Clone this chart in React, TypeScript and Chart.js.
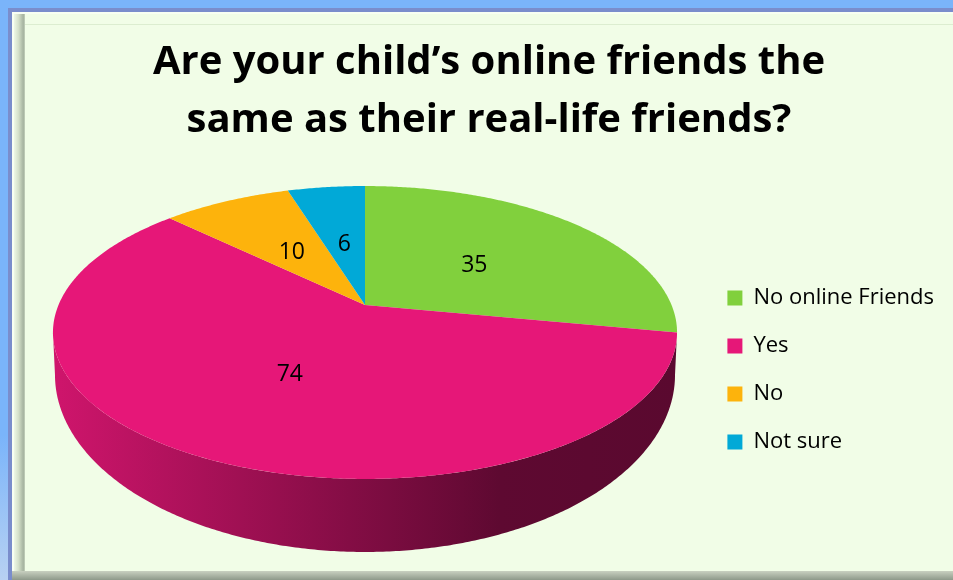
import React, { useEffect, useRef } from "react";
import { Chart, registerables } from "chart.js";

Chart.register(...registerables);

// ---- data ----
const TITLE_LINES = ["Are your child\u2019s online friends the", "same as their real-life friends?"];
const CATEGORIES = ["No online Friends", "Yes", "No", "Not sure"];
const VALUES = [35, 74, 10, 6];
const COLORS = ["#81d03d", "#e61778", "#fdb30c", "#01a9d7"];

// ---- 3D pie geometry (style) ----
const GEOM = {
  cx: 365,
  persp: 0.1877,
  top: { cy: 305, rx: 306.5, ry: 141.3 },
  bottom: { cy: 341.7, rx: 304.5, ry: 170.8 },
  labelR: 0.49,
};

function proj(u: number, v: number, g: { cy: number; rx: number; ry: number }) {
  const d = 1 + GEOM.persp * v;
  return [GEOM.cx + (g.rx * u) / d, g.cy - (g.ry * v) / d];
}

function shade(hex: string, f: number) {
  const n = parseInt(hex.slice(1), 16);
  const r = Math.round(((n >> 16) & 255) * f);
  const g = Math.round(((n >> 8) & 255) * f);
  const b = Math.round((n & 255) * f);
  return `rgb(${r},${g},${b})`;
}

const pie3d = {
  id: "pie3d",
  beforeDatasetsDraw(chart: any) {
    const ctx: CanvasRenderingContext2D = chart.ctx;
    const meta = chart.getDatasetMeta(0);
    const colors: string[] = chart.data.datasets[0].backgroundColor;
    const vis0 = Math.asin(GEOM.persp);
    const vis1 = Math.PI - vis0;
    const step = Math.PI / 360;
    const arcs = meta.data.map((arc: any) => arc.getProps(["startAngle", "endAngle"], true));

    ctx.save();
    // sides (front, visible part)
    arcs.forEach((a: any, i: number) => {
      for (const k of [-2 * Math.PI, 0, 2 * Math.PI]) {
        const a0 = Math.max(a.startAngle + k, vis0);
        const a1 = Math.min(a.endAngle + k, vis1);
        if (a1 <= a0) continue;
        const n = Math.max(2, Math.ceil((a1 - a0) / step));
        ctx.beginPath();
        for (let j = 0; j <= n; j++) {
          const t = a0 + ((a1 - a0) * j) / n;
          const [x, y] = proj(Math.cos(t), -Math.sin(t), GEOM.top);
          if (j === 0) ctx.moveTo(x, y);
          else ctx.lineTo(x, y);
        }
        for (let j = n; j >= 0; j--) {
          const t = a0 + ((a1 - a0) * j) / n;
          const [x, y] = proj(Math.cos(t), -Math.sin(t), GEOM.bottom);
          ctx.lineTo(x, y);
        }
        ctx.closePath();
        const left = GEOM.cx - 312;
        const right = GEOM.cx + 312;
        const grad = ctx.createLinearGradient(left, 0, right, 0);
        grad.addColorStop(0, shade(colors[i], 0.9));
        grad.addColorStop(0.716, shade(colors[i], 0.41));
        grad.addColorStop(1, shade(colors[i], 0.39));
        ctx.fillStyle = grad;
        ctx.fill();
      }
    });

    // top surfaces
    const [ax, ay] = proj(0, 0, GEOM.top);
    arcs.forEach((a: any, i: number) => {
      const n = Math.max(2, Math.ceil((a.endAngle - a.startAngle) / step));
      ctx.beginPath();
      ctx.moveTo(ax, ay);
      for (let j = 0; j <= n; j++) {
        const t = a.startAngle + ((a.endAngle - a.startAngle) * j) / n;
        const [x, y] = proj(Math.cos(t), -Math.sin(t), GEOM.top);
        ctx.lineTo(x, y);
      }
      ctx.closePath();
      ctx.fillStyle = colors[i];
      ctx.fill();
    });

    // data labels
    const values: number[] = chart.data.datasets[0].data;
    ctx.fillStyle = "#000";
    ctx.font = "23px 'Open Sans', sans-serif";
    ctx.textAlign = "center";
    ctx.textBaseline = "middle";
    arcs.forEach((a: any, i: number) => {
      const mid = (a.startAngle + a.endAngle) / 2;
      const r = GEOM.labelR;
      const [x, y] = proj(r * Math.cos(mid), -r * Math.sin(mid), GEOM.top);
      ctx.fillText(String(values[i]), x, y + 2);
    });
    ctx.restore();
    return false;
  },
};

export default function App() {
  const ref = useRef<HTMLCanvasElement | null>(null);

  useEffect(() => {
    if (!ref.current) return;
    Chart.defaults.font.family = "'Open Sans', sans-serif";
    const chart = new Chart(ref.current, {
      type: "pie",
      data: {
        labels: CATEGORIES,
        datasets: [
          {
            data: VALUES,
            backgroundColor: COLORS,
            borderWidth: 0,
          },
        ],
      },
      options: {
        responsive: false,
        animation: false,
        events: [],
        layout: { padding: { left: 34, right: 9, top: 0, bottom: 0 } },
        plugins: {
          title: {
            display: true,
            text: TITLE_LINES,
            color: "#000",
            font: { size: 40, weight: "bold", lineHeight: 1.45, family: "'Open Sans', sans-serif" },
            padding: { top: 34, bottom: 111 },
          },
          legend: {
            display: true,
            position: "right",
            align: "start",
            fullSize: false,
            labels: {
              boxWidth: 15,
              boxHeight: 15,
              padding: 26,
              color: "#000",
              font: { size: 22, family: "'Open Sans', sans-serif" },
            },
          },
          tooltip: { enabled: false },
        },
      },
      plugins: [pie3d],
    } as any);
    return () => chart.destroy();
  }, []);

  return (
    <div
      style={{
        position: "fixed",
        left: 0,
        top: 0,
        width: 953,
        height: 580,
        overflow: "hidden",
        background: "linear-gradient(#7ab4fa 0%, #7ab4fa 75%, #b8d1f2 100%)",
      }}
    >
      <div style={{ position: "absolute", left: 8, top: 8, width: 1000, height: 1000, background: "#7a8dcc" }} />
      <div style={{ position: "absolute", left: 12, top: 12, width: 1000, height: 1000, background: "#f8fff2" }} />
      <div style={{ position: "absolute", left: 14, top: 14, width: 1000, height: 558, background: "#f1fde7" }} />
      <div
        style={{
          position: "absolute",
          left: 14,
          top: 14,
          width: 11,
          height: 558,
          background: "linear-gradient(to right, #eef8e6, #d5e1cb 40%, #a6b3a0 85%, #c6d2be)",
        }}
      />
      <div style={{ position: "absolute", left: 25, top: 24, width: 1000, height: 1, background: "#dcedd0" }} />
      <div
        style={{
          position: "absolute",
          left: 12,
          top: 571,
          width: 1000,
          height: 9,
          background: "linear-gradient(#c8d0c0, #8e998a)",
        }}
      />
      <canvas
        ref={ref}
        width={953}
        height={580}
        style={{ position: "absolute", left: 0, top: 0, width: 953, height: 580 }}
      />
    </div>
  );
}
